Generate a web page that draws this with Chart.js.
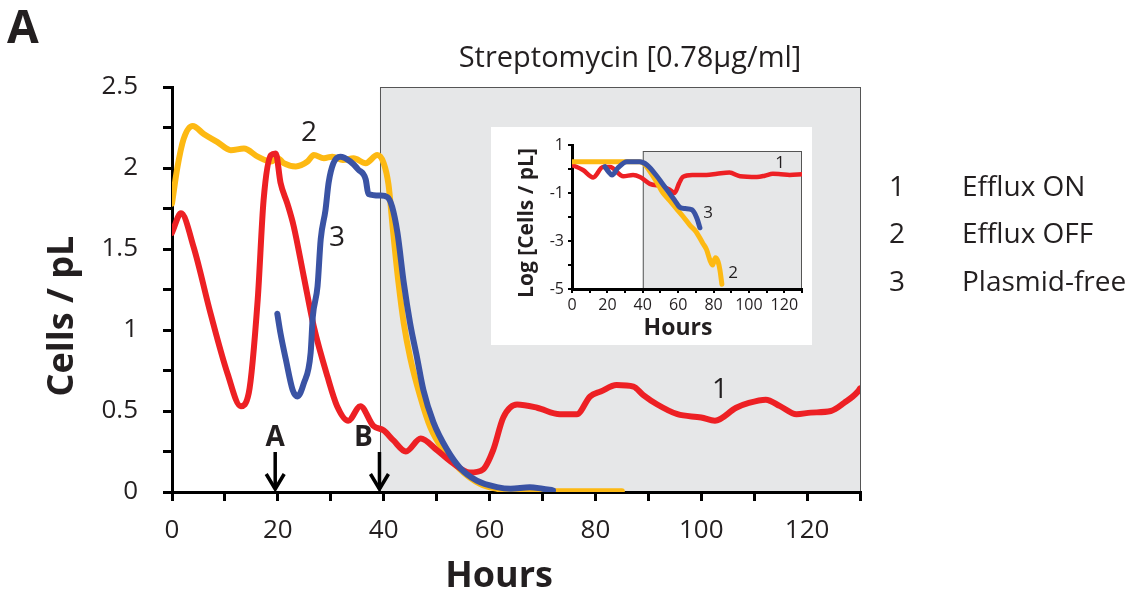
<!DOCTYPE html>
<html>
<head>
<meta charset="utf-8">
<script src="https://cdn.jsdelivr.net/npm/chart.js@4.4.0/dist/chart.umd.min.js"></script>
<style>
  body { margin: 0; background: #fff; }
  #wrap { position: relative; width: 1144px; height: 600px; }
  #mainChart { display: block; }
  #insetChart { position: absolute; left: 491px; top: 127px; background: #fff; }
</style>
</head>
<body>
<div id="wrap">
  <canvas id="mainChart" width="1144" height="600"></canvas>
  <canvas id="insetChart" width="321" height="218"></canvas>
</div>
<script>
// series names / numbers
var seriesNames = ['Efflux ON', 'Efflux OFF', 'Plasmid-free'];
var seriesNumbers = ['1', '2', '3'];

// main panel: cells per pL over hours
var effluxOnHours = [0, 1.7, 4.1, 7.3, 10.5, 13, 14.5, 16.2, 17.3, 18.7, 19.6, 20.5, 21.8, 23, 24.9, 26.8, 29.4, 31.2, 33.3, 35.6, 38, 40, 41.8, 44.2, 47, 50, 53, 56.3, 58.8, 60.7, 62.6, 65.2, 69, 73.3, 76.5, 79, 81, 84, 87.2, 89, 91.7, 95.5, 100, 102.6, 106.6, 109, 112.2, 114.9, 118, 120.7, 124.5, 127, 129.6, 130];
var effluxOnCells = [1.6, 1.72, 1.51, 1.10, 0.73, 0.53, 0.61, 1.19, 1.80, 2.08, 2.09, 1.91, 1.78, 1.64, 1.33, 1.02, 0.71, 0.53, 0.44, 0.53, 0.41, 0.38, 0.32, 0.25, 0.33, 0.26, 0.18, 0.12, 0.14, 0.26, 0.46, 0.54, 0.52, 0.48, 0.48, 0.59, 0.62, 0.66, 0.65, 0.60, 0.54, 0.48, 0.46, 0.44, 0.52, 0.55, 0.57, 0.53, 0.48, 0.49, 0.50, 0.55, 0.62, 0.64];

var effluxOffHours = [0, 1, 2.2, 3.9, 6, 8.6, 11.1, 13.6, 16.2, 18.7, 20, 21.1, 23.4, 25.6, 26.8, 28.7, 30.3, 32.3, 34.3, 36.6, 38.8, 40, 40.9, 41.8, 42.8, 43.8, 45, 46.9, 48.8, 51.2, 54.4, 58.2, 61.4, 65, 70, 75, 80, 85];
var effluxOffCells = [1.78, 2.0, 2.18, 2.26, 2.21, 2.16, 2.11, 2.12, 2.07, 2.04, 2.06, 2.03, 2.01, 2.04, 2.08, 2.06, 2.07, 2.05, 2.06, 2.03, 2.08, 2.03, 1.90, 1.60, 1.29, 1.04, 0.83, 0.59, 0.40, 0.26, 0.14, 0.05, 0.02, 0.01, 0.005, 0.005, 0.005, 0.005];

var plasmidFreeHours = [19.9, 20.5, 21.5, 22.8, 23.7, 24.9, 26.2, 26.6, 27.5, 28.1, 29, 29.6, 30.5, 31.8, 33.7, 35.2, 36.6, 37.1, 39.4, 40.7, 41.6, 42.6, 43.8, 45, 46.3, 47.5, 49.4, 52, 54.4, 57.6, 61.4, 64, 67.6, 70, 72];
var plasmidFreeCells = [1.10, 0.98, 0.82, 0.63, 0.59, 0.67, 0.86, 1.08, 1.27, 1.56, 1.74, 1.91, 2.03, 2.07, 2.04, 1.99, 1.93, 1.84, 1.83, 1.82, 1.76, 1.60, 1.29, 1.04, 0.83, 0.63, 0.43, 0.26, 0.15, 0.07, 0.03, 0.02, 0.03, 0.02, 0.01];

// inset: log cells per pL
var effluxOnLogHours = [0, 6.2, 12, 17.5, 21.5, 29, 34.5, 38.4, 44, 51, 55, 58, 60.5, 62.7, 68, 76, 82, 89, 95, 104.5, 109, 113.5, 118, 123, 130];
var effluxOnLog = [0.17, -0.04, -0.35, 0.08, 0.08, -0.3, -0.25, -0.33, -0.62, -0.72, -0.85, -1.0, -0.6, -0.33, -0.25, -0.25, -0.2, -0.15, -0.3, -0.33, -0.28, -0.2, -0.22, -0.25, -0.22];

var effluxOffLogHours = [0, 10, 20, 30, 38, 41, 44, 47.5, 51, 55, 59, 63, 66.7, 70, 74, 76, 78, 79.5, 81, 82.5, 83.6, 84.7];
var effluxOffLog = [0.3, 0.3, 0.3, 0.3, 0.3, 0.2, -0.1, -0.5, -0.95, -1.3, -1.65, -2.0, -2.35, -2.6, -3.1, -3.35, -3.8, -4.0, -3.7, -3.85, -4.2, -4.8];

var plasmidFreeLogHours = [18.6, 20.5, 22.6, 26, 31, 38.4, 42.4, 48, 51, 55, 58, 61, 64, 67.8, 70.6, 72.3];
var plasmidFreeLog = [0.1, -0.1, -0.25, 0.05, 0.3, 0.3, 0.17, -0.3, -0.6, -1.0, -1.3, -1.6, -1.65, -1.7, -2.05, -2.45];

// streptomycin added / arrows
var drugStartHour = 39.3;
var arrowHours = [19.5, 39.2];
var arrowLabels = ['A', 'B'];

var red = '#ed2024', gold = '#fdb913', blue = '#3a53a4', ink = '#231f20';

Chart.defaults.font.family = "'Open Sans', sans-serif";
Chart.defaults.color = ink;

function toPoints(xs, ys) {
  return xs.map(function (x, i) { return { x: x, y: ys[i] }; });
}

function lineSet(label, xs, ys, color, width) {
  return {
    label: label,
    data: toPoints(xs, ys),
    borderColor: color,
    borderWidth: width,
    borderCapStyle: 'round',
    borderJoinStyle: 'round',
    cubicInterpolationMode: 'monotone',
    pointRadius: 0,
    fill: false
  };
}

var mainDecor = {
  id: 'mainDecor',
  beforeDraw: function (chart) {
    var ctx = chart.ctx, area = chart.chartArea;
    var x0 = chart.scales.x.getPixelForValue(drugStartHour);
    ctx.save();
    ctx.fillStyle = '#e6e7e8';
    ctx.fillRect(x0, area.top, area.right - x0, area.bottom - area.top);
    ctx.strokeStyle = '#555';
    ctx.lineWidth = 1;
    ctx.strokeRect(x0 + 0.5, area.top + 0.5, area.right - x0, area.bottom - area.top);
    ctx.restore();
  },
  afterDraw: function (chart) {
    var ctx = chart.ctx;
    ctx.save();
    ctx.fillStyle = ink;
    ctx.textBaseline = 'middle';

    ctx.textAlign = 'left';
    ctx.font = "bold 46px 'Open Sans'";
    ctx.fillText('A', 7, 30);

    ctx.textAlign = 'center';
    ctx.font = "bold 36px 'Open Sans'";
    ctx.fillText('Hours', 499, 577);
    ctx.save();
    ctx.translate(63, 316);
    ctx.rotate(-Math.PI / 2);
    ctx.fillText('Cells / pL', 0, 0);
    ctx.restore();

    ctx.font = "29px 'Open Sans'";
    ctx.fillText('Streptomycin [0.78\u00b5g/ml]', 630, 59);

    ctx.font = "28px 'Open Sans'";
    ctx.fillText('2', 309, 133);
    ctx.fillText('3', 337, 238);
    ctx.fillText('1', 720, 390);

    // legend
    ctx.font = "28px 'Open Sans'";
    for (var i = 0; i < seriesNames.length; i++) {
      var y = 188 + i * 47.5;
      ctx.textAlign = 'center';
      ctx.fillText(seriesNumbers[i], 897, y);
      ctx.textAlign = 'left';
      ctx.fillText(seriesNames[i], 962, y);
    }

    // arrows A and B
    ctx.strokeStyle = '#000';
    ctx.lineWidth = 3.5;
    ctx.textAlign = 'center';
    ctx.font = "bold 28px 'Open Sans'";
    var shift = [0, -16];
    for (var j = 0; j < arrowHours.length; j++) {
      var x = chart.scales.x.getPixelForValue(arrowHours[j]);
      ctx.beginPath();
      ctx.moveTo(x, 452);
      ctx.lineTo(x, 489);
      ctx.stroke();
      ctx.beginPath();
      ctx.moveTo(x - 9, 474);
      ctx.lineTo(x, 489);
      ctx.lineTo(x + 9, 474);
      ctx.stroke();
      ctx.fillText(arrowLabels[j], x + shift[j], 438);
    }
    ctx.restore();
  }
};

var mainCtx = document.getElementById('mainChart').getContext('2d');
var mainChart = new Chart(mainCtx, {
  type: 'line',
  data: {
    datasets: [
      lineSet(seriesNames[2], plasmidFreeHours, plasmidFreeCells, blue, 6),
      lineSet(seriesNames[0], effluxOnHours, effluxOnCells, red, 6),
      lineSet(seriesNames[1], effluxOffHours, effluxOffCells, gold, 6)
    ]
  },
  options: {
    responsive: false,
    animation: false,
    layout: { padding: { top: 87, right: 284, left: 0, bottom: 0 } },
    plugins: { legend: { display: false }, tooltip: { enabled: false } },
    scales: {
      x: {
        type: 'linear',
        min: 0,
        max: 130,
        afterFit: function (s) { s.height = 108; },
        border: { color: '#000', width: 3 },
        grid: { drawOnChartArea: false, color: '#000', lineWidth: 3, tickLength: 9 },
        ticks: {
          stepSize: 10, autoSkip: false, maxRotation: 0, padding: 14,
          color: ink, font: { size: 26 },
          callback: function (v) { return v % 20 === 0 ? v : ''; }
        }
      },
      y: {
        min: 0,
        max: 2.5,
        afterFit: function (s) { s.width = 172; },
        border: { color: '#000', width: 3 },
        grid: { drawOnChartArea: false, color: '#000', lineWidth: 3, tickLength: 9 },
        ticks: {
          stepSize: 0.25, autoSkip: false, padding: 25,
          color: ink, font: { size: 26 },
          callback: function (v) { return Math.abs(v * 2 - Math.round(v * 2)) < 1e-6 ? v : ''; }
        }
      }
    }
  },
  plugins: [mainDecor]
});

var insetDecor = {
  id: 'insetDecor',
  beforeDraw: function (chart) {
    var ctx = chart.ctx, area = chart.chartArea;
    var x0 = chart.scales.x.getPixelForValue(40);
    var y0 = chart.scales.y.getPixelForValue(0.75);
    ctx.save();
    ctx.fillStyle = '#e6e7e8';
    ctx.fillRect(x0, y0, area.right - x0, area.bottom - y0);
    ctx.strokeStyle = '#555';
    ctx.lineWidth = 1;
    ctx.strokeRect(x0 + 0.5, y0 + 0.5, area.right - x0 - 1, area.bottom - y0);
    ctx.restore();
  },
  afterDraw: function (chart) {
    var ctx = chart.ctx;
    ctx.save();
    ctx.fillStyle = ink;
    ctx.textAlign = 'center';
    ctx.textBaseline = 'middle';
    ctx.font = "bold 23px 'Open Sans'";
    ctx.fillText('Hours', 187, 201);
    ctx.save();
    ctx.translate(36, 96);
    ctx.rotate(-Math.PI / 2);
    ctx.font = "bold 21px 'Open Sans'";
    ctx.fillText('Log [Cells / pL]', 0, 0);
    ctx.restore();
    ctx.font = "17px 'Open Sans'";
    ctx.fillText('1', 289, 36);
    ctx.fillText('3', 217, 86);
    ctx.fillText('2', 242, 146);
    ctx.restore();
  }
};

var insetCtx = document.getElementById('insetChart').getContext('2d');
var insetChart = new Chart(insetCtx, {
  type: 'line',
  data: {
    datasets: [
      lineSet(seriesNames[2], plasmidFreeLogHours, plasmidFreeLog, blue, 5),
      lineSet(seriesNames[1], effluxOffLogHours, effluxOffLog, gold, 5),
      lineSet(seriesNames[0], effluxOnLogHours, effluxOnLog, red, 4.5)
    ]
  },
  options: {
    responsive: false,
    animation: false,
    layout: { padding: { top: 18, right: 10, left: 0, bottom: 0 } },
    plugins: { legend: { display: false }, tooltip: { enabled: false } },
    scales: {
      x: {
        type: 'linear',
        min: 0,
        max: 130,
        afterFit: function (s) { s.height = 56; },
        border: { color: '#000', width: 3 },
        grid: { drawOnChartArea: false, color: '#000', lineWidth: 2, tickLength: 4 },
        ticks: {
          stepSize: 10, autoSkip: false, maxRotation: 0, padding: 3,
          color: ink, font: { size: 16 },
          callback: function (v) { return v % 20 === 0 ? v : ''; }
        }
      },
      y: {
        min: -5,
        max: 1,
        afterFit: function (s) { s.width = 81; },
        border: { color: '#000', width: 3 },
        grid: { drawOnChartArea: false, color: '#000', lineWidth: 2, tickLength: 4 },
        ticks: {
          stepSize: 1, autoSkip: false, padding: 4,
          color: ink, font: { size: 16 },
          callback: function (v) { return (v + 5) % 2 === 0 ? v : ''; }
        }
      }
    }
  },
  plugins: [insetDecor]
});
</script>
</body>
</html>
